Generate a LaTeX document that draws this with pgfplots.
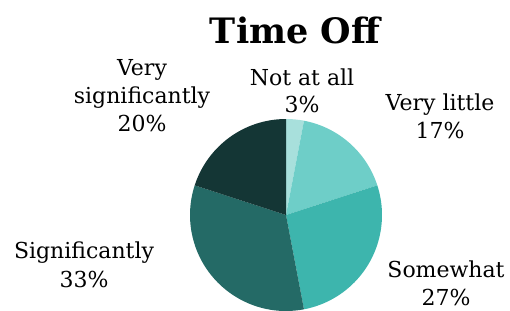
\documentclass[border=0pt]{standalone}
\usepackage{pgfplots}
\pgfplotsset{compat=1.18}
\usepackage{fontspec}
\setmainfont{DejaVu Serif}
\definecolor{c1}{RGB}{168,224,220}
\definecolor{c2}{RGB}{110,206,200}
\definecolor{c3}{RGB}{61,181,173}
\definecolor{c4}{RGB}{36,106,102}
\definecolor{c5}{RGB}{20,54,53}
\begin{document}
\begin{tikzpicture}
\begin{axis}[x=1bp,y=1bp,xmin=0,xmax=510,ymin=0,ymax=310,hide axis,clip=true]
\path (axis cs:0,0) rectangle (axis cs:510,310);
\xdef\cum{0}
\foreach \v/\c in {3/c1,17/c2,27/c3,33/c4,20/c5}{
  \pgfmathsetmacro\a{90-3.6*\cum}
  \pgfmathsetmacro\b{90-3.6*(\cum+\v)}
  \edef\temp{\noexpand\fill[\c] (axis cs:286,95) -- ++(\a:96bp) arc[start angle=\a, end angle=\b, radius=96bp] -- cycle;}
  \temp
  \pgfmathsetmacro\nc{\cum+\v}
  \xdef\cum{\nc}
}
\node[anchor=base,font=\fontsize{35bp}{40bp}\selectfont\bfseries] at (axis cs:295,267) {Time Off};
\foreach \x/\y/\t in {302/225/Not at all, 302/198/3\%,
  440/200/Very little, 440/172/17\%,
  446/33/Somewhat, 446/5/27\%,
  84/52/Significantly, 84/23/33\%,
  142/235/Very, 142/207/significantly, 142/179/20\%}{
  \edef\temp{\noexpand\node[anchor=base,font=\noexpand\fontsize{22bp}{28bp}\noexpand\selectfont] at (axis cs:\x,\y) {\t};}
  \temp
}
\end{axis}
\end{tikzpicture}
\end{document}
